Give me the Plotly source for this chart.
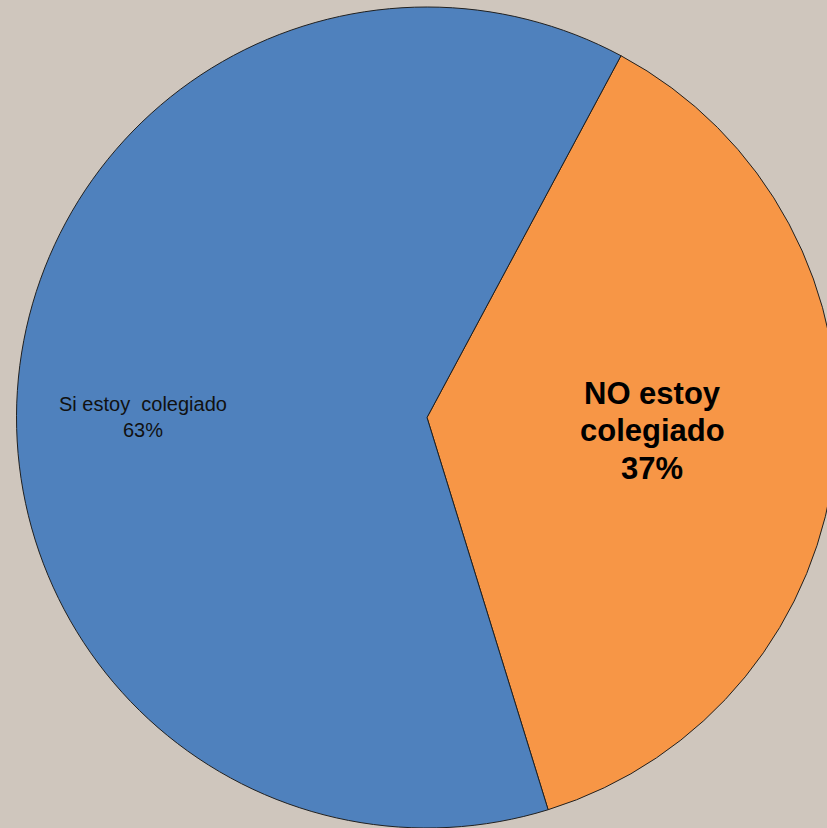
import plotly.graph_objects as go

labels = ["NO estoy colegiado", "Si estoy colegiado"]
values = [37.4, 62.6]
colors = ["#F79646", "#4F81BD"]

total = sum(values)
pcts = [f"{v / total:.0%}" for v in values]

W, H = 838, 828
ML, MT = 16, 7

fig = go.Figure(
    go.Pie(
        labels=labels,
        values=values,
        sort=False,
        direction="clockwise",
        rotation=28.2,
        marker=dict(colors=colors, line=dict(color="#202020", width=1)),
        textinfo="none",
        hoverinfo="label+percent",
        showlegend=False,
    )
)

def px2paper(x, y):
    return (x - ML) / (W - ML), 1 - (y - MT) / (H - MT)

# orange (bold) label, one line per annotation for tight line spacing
orange_lines = ["NO estoy", "colegiado", pcts[0]]
orange_y = [394, 431, 468]
for line, yy in zip(orange_lines, orange_y):
    ax, ay = px2paper(652, yy)
    fig.add_annotation(
        x=ax, y=ay, xref="paper", yref="paper", showarrow=False,
        xanchor="center", yanchor="middle",
        text="<b>" + line + "</b>",
        font=dict(family="Liberation Sans, Arial", size=31, color="#000000"),
    )

bx, by = px2paper(143, 417)
fig.add_annotation(
    x=bx, y=by, xref="paper", yref="paper", showarrow=False,
    xanchor="center", yanchor="middle",
    text="Si estoy  colegiado<br>" + pcts[1],
    font=dict(family="Liberation Sans, Arial", size=20, color="#111111"),
    align="center",
)

fig.update_layout(
    width=W, height=H,
    margin=dict(l=ML, r=0, t=MT, b=0, pad=0),
    paper_bgcolor="#CFC6BD",
    plot_bgcolor="#CFC6BD",
)

fig.write_html(
    "out.html",
    config={"displayModeBar": False},
    post_script="document.body.style.margin='0';document.body.style.overflow='hidden';document.documentElement.style.overflow='hidden';document.body.style.background='#CFC6BD';",
)
